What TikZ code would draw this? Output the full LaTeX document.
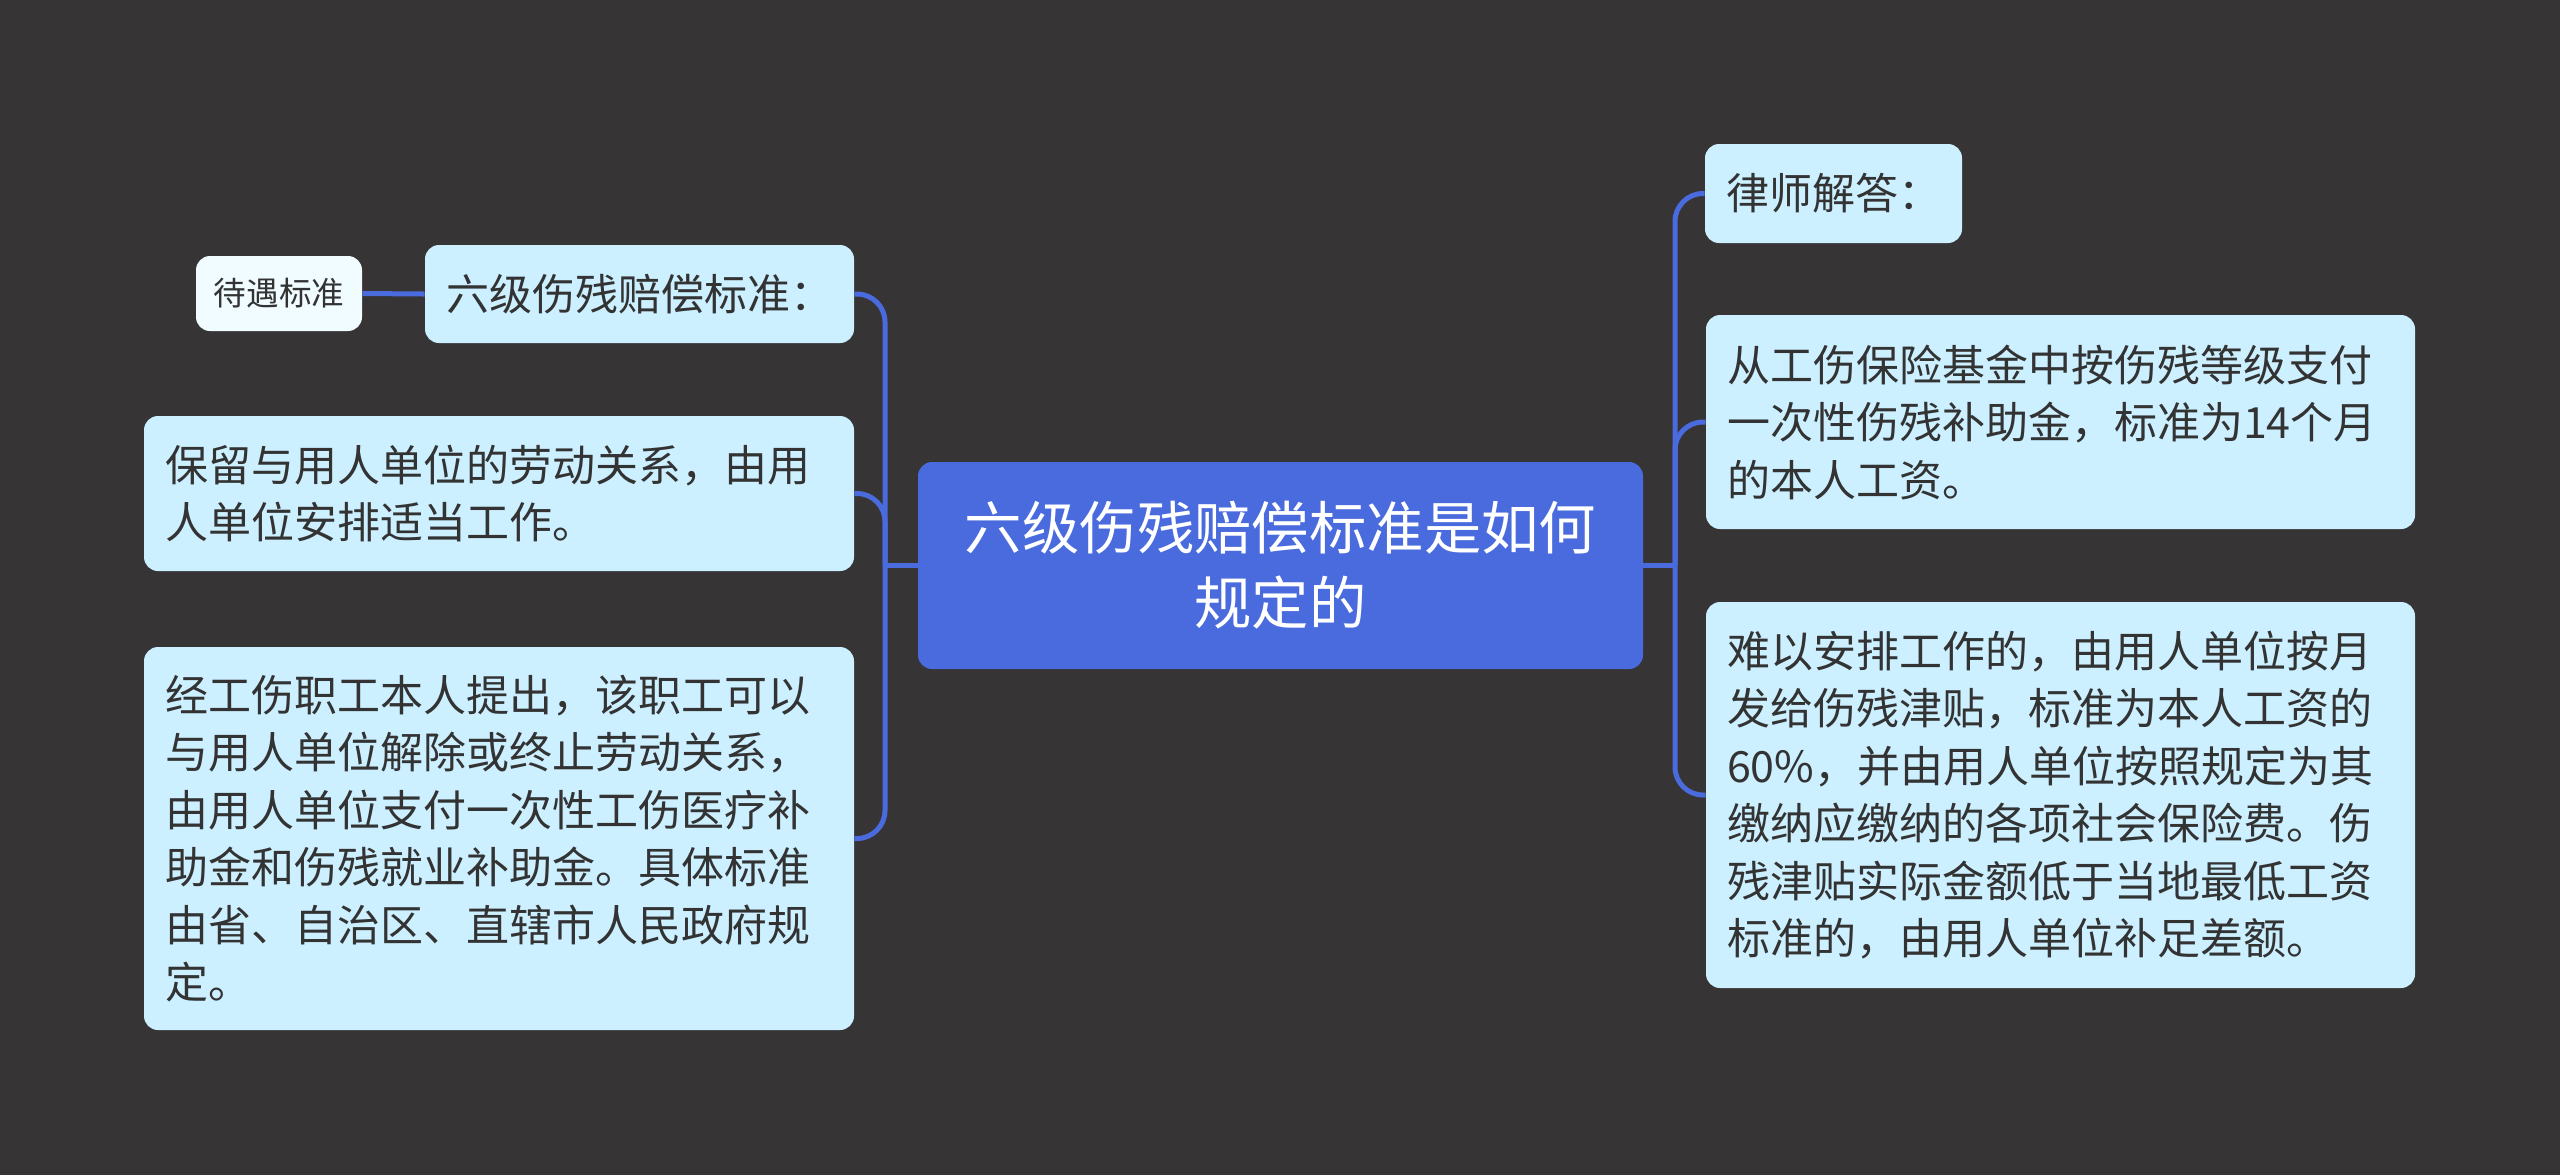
\documentclass[tikz,border=0pt]{standalone}
\usepackage{fontspec}
\setmainfont{Noto Sans CJK SC}
\definecolor{bgdark}{HTML}{363435}
\definecolor{rootblue}{HTML}{4A6BDD}
\definecolor{topicfill}{HTML}{CCF0FF}
\definecolor{tagfill}{HTML}{F0FCFF}
\definecolor{inkdark}{HTML}{333333}
\begin{document}
\begin{tikzpicture}[x=0.5pt, y=-0.5pt,
		every node/.style={rounded corners=7pt, inner sep=0pt},
		root/.style={fill=rootblue, text=white, align=center, minimum width=362.5pt, minimum height=103.5pt,
			font=\fontsize{28.7pt}{37.5pt}\selectfont},
		topic/.style={fill=topicfill, text=inkdark, inner xsep=10.5pt, align=left,
			font=\fontsize{21.5pt}{28.75pt}\selectfont},
		tag/.style={fill=tagfill, text=inkdark, minimum width=83pt, minimum height=37.5pt,
			font=\fontsize{16.3pt}{20pt}\selectfont},
		link/.style={draw=rootblue, line width=2.5pt, rounded corners=14pt}]

	\fill[bgdark] (0,0) rectangle (2560,1175);
	\useasboundingbox (0,0) rectangle (2560,1175);

	\node[root] (root) at (1280.5, 565.5) {六级伤残赔偿标准是如何\\规定的};

	% left side
	\node[topic, minimum height=49pt] (std) at (639.5, 294) {六级伤残赔偿标准：};
	\node[tag] (treat) at (279, 293.5) {待遇标准};
	\node[topic, text width=334pt, minimum height=77.5pt] (keep) at (499, 493.5)
		{保留与用人单位的劳动关系，由用\\人单位安排适当工作。};
	\node[topic, text width=334pt, minimum height=191.5pt] (quit) at (499, 838.5)
		{经工伤职工本人提出，该职工可以\\与用人单位解除或终止劳动关系，\\由用人单位支付一次性工伤医疗补\\助金和伤残就业补助金。具体标准\\由省、自治区、直辖市人民政府规\\定。};

	% right side
	\node[topic, minimum height=49.5pt] (lawyer) at (1833.5, 193.5) {律师解答：};
	\node[topic, text width=333.5pt, minimum height=107pt] (fund) at (2060.5, 422)
		{从工伤保险基金中按伤残等级支付\\一次性伤残补助金，标准为14个月\\的本人工资。};
	\node[topic, text width=333.5pt, minimum height=193pt] (allow) at (2060.5, 795)
		{难以安排工作的，由用人单位按月\\发给伤残津贴，标准为本人工资的\\60\%，并由用人单位按照规定为其\\缴纳应缴纳的各项社会保险费。伤\\残津贴实际金额低于当地最低工资\\标准的，由用人单位补足差额。};

	\coordinate (lt) at (885, 565.5);
	\coordinate (rt) at (1675, 565.5);

	\draw[link] (root.west) -- (lt);
	\draw[link] (lt) |- (std.east);
	\draw[link] (lt) |- (keep.east);
	\draw[link] (lt) |- (quit.east);
	\draw[link] (treat.east) -- (std.west);

	\draw[link] (root.east) -- (rt);
	\draw[link] (rt) |- (lawyer.west);
	\draw[link] (rt) |- (fund.west);
	\draw[link] (rt) |- (allow.west);
\end{tikzpicture}
\end{document}
